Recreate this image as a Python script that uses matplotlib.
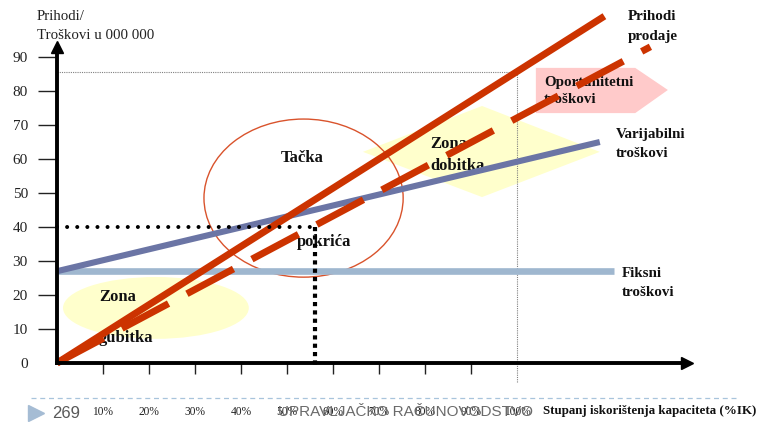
import matplotlib
matplotlib.use('Agg')
import matplotlib.pyplot as plt
from matplotlib.patches import Ellipse, Polygon
from matplotlib.lines import Line2D

# capacity utilisation (%IK) on x, revenue / costs in 000 000 on y
capacity_ticks = [10, 20, 30, 40, 50, 60, 70, 80, 90, 100]
capacity_labels = ['10%', '20%', '30%', '40%', '50%', '60%', '70%', '80%', '90%', '100%']
value_ticks = [0, 10, 20, 30, 40, 50, 60, 70, 80, 90]

revenue_x = [0, 119]
revenue_y = [0, 102]

opportunity_x = [0, 129]
opportunity_y = [0, 93]

total_cost_x = [0, 118]
total_cost_y = [27, 65]

fixed_cost_x = [0, 121]
fixed_cost_y = [27, 27]

break_even_x = 56
break_even_y = 40
full_capacity = 100

RED = '#cc3300'
SERIF = 'Liberation Serif'
SANS = 'Liberation Sans'

plt.rcParams['font.family'] = SERIF

fig = plt.figure(figsize=(7.61, 4.22), dpi=100)
ax = fig.add_axes([0, 0, 1, 1])
# 1 % of capacity = 4.6 px, 1 unit of value = 3.4 px, origin at (57, 363)
ax.set_xlim(-57 / 4.6, (761 - 57) / 4.6)
ax.set_ylim(-(422 - 363) / 3.4, 363 / 3.4)

# axes with arrows
for side in ['top', 'right']:
    ax.spines[side].set_visible(False)
ax.spines['left'].set_position(('data', 0))
ax.spines['bottom'].set_position(('data', 0))
ax.spines['left'].set_bounds(0, 92)
ax.spines['bottom'].set_bounds(0, 136)
ax.spines['left'].set_linewidth(2.8)
ax.spines['bottom'].set_linewidth(2.8)
ax.plot([0], [93], marker='^', ms=9, color='black', clip_on=False, zorder=5)
ax.plot([137], [0], marker='>', ms=9, color='black', clip_on=False, zorder=5)

ax.set_xticks(capacity_ticks)
ax.set_xticklabels(capacity_labels)
ax.set_yticks(value_ticks)
ax.set_yticklabels([str(v) for v in value_ticks])
ax.tick_params(axis='x', direction='out', length=8, width=1, pad=23, labelsize=8.3, colors='#222222')
ax.tick_params(axis='y', direction='out', length=14, width=1, pad=7, labelsize=11, colors='#222222')
ax.yaxis.get_major_ticks()[0].tick1line.set_visible(False)
ax.xaxis.get_major_ticks()[-1].tick1line.set_visible(False)

# zones
ax.add_patch(Ellipse((21.5, 16.2), 40.4, 18.2, facecolor='#ffffcc', edgecolor='none', zorder=1))
ax.add_patch(Polygon([(66.5, 62.1), (92.4, 75.6), (118.0, 62.1), (92.4, 48.8)],
                     closed=True, facecolor='#ffffcc', edgecolor='none', zorder=1))
ax.add_patch(Polygon([(104.1, 86.8), (125.7, 86.8), (132.8, 80.3), (125.7, 73.5), (104.1, 73.5)],
                     closed=True, facecolor='#ffcaca', edgecolor='none', zorder=1))
ax.add_patch(Ellipse((53.6, 48.5), 43.3, 46.5, facecolor='none', edgecolor='#d9532c',
                     linewidth=1, zorder=1.8))

# capacity and maximum revenue guides
rev_full = revenue_y[1] / revenue_x[1] * full_capacity
ax.plot([0, full_capacity], [rev_full, rev_full], color='#808080', lw=0.8,
        linestyle=(0, (1, 1)), zorder=1.6)
ax.plot([full_capacity, full_capacity], [rev_full, -5.6], color='#808080', lw=0.8,
        linestyle=(0, (1, 1)), zorder=1.6, clip_on=False)

# inner labels (under the lines)
txt = dict(fontweight='bold', fontsize=12, color='#111111', va='center', ha='left', zorder=1.5)
ax.text(48.7, 60.3, 'Tačka', **txt)
ax.text(52.2, 35.6, 'pokrića', **txt)
ax.text(9.1, 19.4, 'Zona', **txt)
ax.text(9.1, 7.4, 'gubitka', **txt)
ax.text(81.1, 64.3, 'Zona', **txt)
ax.text(81.1, 58.0, 'dobitka', **txt)
ax.text(105.9, 82.6, 'Oportunitetni', fontsize=10.8, fontweight='bold', color='#111111',
        va='center', ha='left', zorder=1.5)
ax.text(105.9, 77.4, 'troškovi', fontsize=10.8, fontweight='bold', color='#111111',
        va='center', ha='left', zorder=1.5)

# cost and revenue lines
ax.plot(fixed_cost_x, fixed_cost_y, color='#9fb7cf', lw=4.8, solid_capstyle='butt', zorder=2)
ax.plot(total_cost_x, total_cost_y, color='#6b75a5', lw=4.4, solid_capstyle='butt', zorder=2.1)
ax.plot(revenue_x, revenue_y, color=RED, lw=5, solid_capstyle='butt', zorder=2.2)
ax.plot(opportunity_x, opportunity_y, color=RED, lw=5, linestyle=(0, (7.6, 3.0)),
        dash_capstyle='butt', zorder=2.3)

# break-even guides
ax.plot([0, break_even_x], [break_even_y, break_even_y], color='black', lw=2.9,
        linestyle=(0, (0.01, 2.5)), dash_capstyle='round', zorder=3)
ax.plot([break_even_x, break_even_x], [break_even_y, -1.2], color='black', lw=3,
        linestyle=(0, (1, 1)), dash_capstyle='butt', zorder=3, clip_on=False)

# outer labels
side = dict(fontweight='bold', fontsize=10.8, color='#111111', va='center', ha='left')
ax.text(124.1, 101.8, 'Prihodi', **side)
ax.text(124.1, 95.9, 'prodaje', **side)
ax.text(121.5, 67.1, 'Varijabilni', **side)
ax.text(121.5, 61.5, 'troškovi', **side)
ax.text(122.8, 26.2, 'Fiksni', **side)
ax.text(122.8, 20.6, 'troškovi', **side)

ax.text(-4.35, 101.8, 'Prihodi/', fontsize=10.7, color='#222222', va='center', ha='left')
ax.text(-4.35, 96.2, 'Troškovi u 000 000', fontsize=10.7, color='#222222', va='center', ha='left')

# slide footer
fig.add_artist(Line2D([31 / 761, 738 / 761], [1 - 398 / 422, 1 - 398 / 422],
                      transform=fig.transFigure, color='#a8c4dc', lw=0.9,
                      linestyle=(0, (4, 3))))
ax.plot([-4.57], [-14.7], marker='>', ms=11, color='#a5bcd4', clip_on=False)
fig.text(52 / 761, 1 - 413 / 422, '269', fontsize=12, color='#595959', family=SANS,
         va='center', ha='left')
fig.text(406 / 761, 1 - 412 / 422, 'UPRAVLJAČKO RAČUNOVODSTVO', fontsize=11, color='#6a6a6a',
         family=SANS, va='center', ha='center')
fig.text(543 / 761, 1 - 411 / 422, 'Stupanj iskorištenja kapaciteta (%IK)', fontsize=9.4,
         fontweight='bold', color='#111111', va='center', ha='left')

fig.savefig('out.png', dpi=100)
